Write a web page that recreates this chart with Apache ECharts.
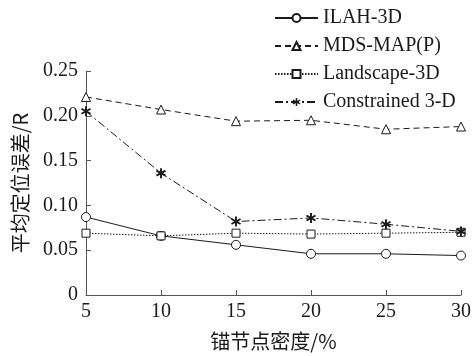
<!DOCTYPE html>
<html><head><meta charset="utf-8">
<script src="https://cdn.jsdelivr.net/npm/echarts@6/dist/echarts.min.js"></script>
<style>html,body{margin:0;padding:0;background:#fff}#c{width:474px;height:356px}</style>
</head><body><div id="c"></div>
<script>
const density = [5, 10, 15, 20, 25, 30];
const ilah = [0.087, 0.066, 0.056, 0.046, 0.046, 0.044];
const mdsmap = [0.221, 0.207, 0.194, 0.195, 0.185, 0.188];
const landscape = [0.069, 0.066, 0.069, 0.068, 0.069, 0.070];
const constrained = [0.205, 0.136, 0.082, 0.086, 0.079, 0.071];
const seriesNames = ['ILAH-3D', 'MDS-MAP(P)', 'Landscape-3D', 'Constrained 3-D'];
const xTicks = [5, 10, 15, 20, 25, 30];
const yTicks = [0, 0.05, 0.10, 0.15, 0.20, 0.25];

const star = 'path://M4.1,0 L5.9,0 L5.9,10 L4.1,10 Z M1.12,8.28 L0.22,6.72 L8.88,1.72 L9.78,3.28 Z M0.22,3.28 L1.12,1.72 L9.78,6.72 L8.88,8.28 Z';
const serif = '"Liberation Serif", "DejaVu Serif", serif';
const cjk = '"Noto Sans CJK SC", sans-serif';
const ink = '#1a1a1a';

function pairs(vals){ return density.map((d,i)=>[d, vals[i]]); }

const styles = [
  {data: ilah, symbol: 'circle', size: 9, type: 'solid'},
  {data: mdsmap, symbol: 'triangle', size: 9, type: [6,4]},
  {data: landscape, symbol: 'rect', size: 8, type: [1.5,1.5]},
  {data: constrained, symbol: star, size: 10, type: [8,3,2,3]}
];

const chart = echarts.init(document.getElementById('c'), null, {renderer: 'canvas'});
chart.setOption({
  animation: false,
  backgroundColor: '#fff',
  grid: {left: 86, right: 11, top: 71, bottom: 60, containLabel: false},
  legend: {
    orient: 'vertical', left: 269, top: 3, itemWidth: 43, itemHeight: 10, itemGap: 8,
    textStyle: {fontFamily: serif, fontSize: 20, color: ink},
    data: seriesNames
  },
  xAxis: {
    type: 'value', min: 5, max: 30, interval: 5,
    name: '锚节点密度/%', nameLocation: 'middle', nameGap: 36,
    nameTextStyle: {fontFamily: cjk, fontSize: 20, color: ink},
    axisLine: {lineStyle: {color: '#555', width: 1}},
    axisTick: {inside: true, length: 5, lineStyle: {color: '#555'}},
    axisLabel: {fontFamily: serif, fontSize: 20, color: ink, margin: 7,
      formatter: v => xTicks.includes(v) ? String(v) : ''},
    splitLine: {show: false}
  },
  yAxis: {
    type: 'value', min: 0, max: 0.25, interval: 0.05,
    name: '平均定位误差/R', nameLocation: 'middle', nameGap: 56, nameRotate: 90,
    nameTextStyle: {fontFamily: cjk, fontSize: 20, color: ink},
    axisLine: {show: true, lineStyle: {color: '#555', width: 1}},
    axisTick: {show: true, inside: true, length: 5, lineStyle: {color: '#555'}},
    axisLabel: {fontFamily: serif, fontSize: 20, color: ink, margin: 8,
      formatter: v => { const t = yTicks.find(y => Math.abs(y - v) < 1e-9); return t === 0 ? '0' : t.toFixed(2); }},
    splitLine: {show: false}
  },
  series: styles.map((s, i) => ({
    name: seriesNames[i], type: 'line', data: pairs(s.data),
    symbol: s.symbol, symbolSize: s.size, showAllSymbol: true,
    lineStyle: {color: ink, width: 1, type: s.type},
    itemStyle: {color: i === 3 ? ink : '#fff', borderColor: ink, borderWidth: i === 3 ? 0 : 1}
  }))
});
</script></body></html>
